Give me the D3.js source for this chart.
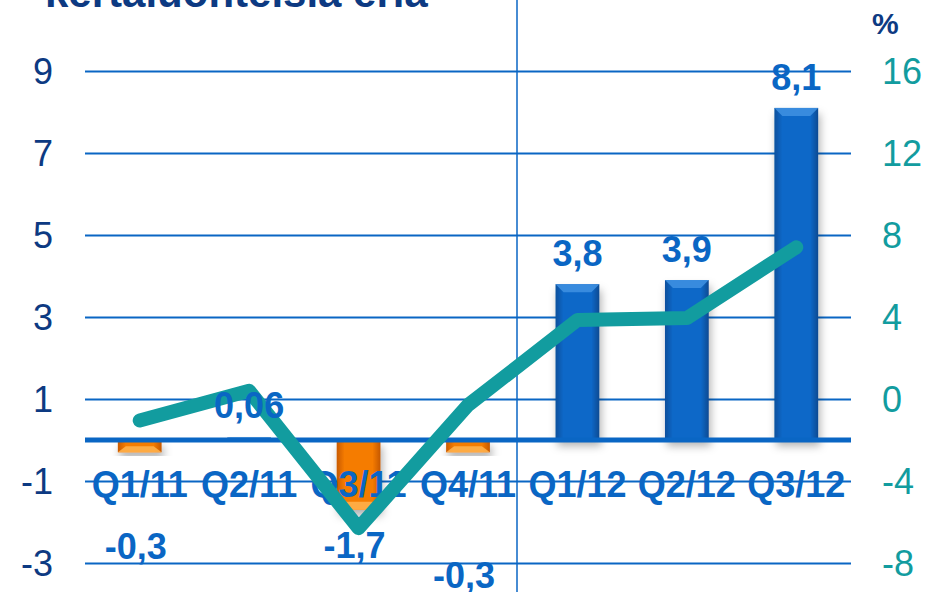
<!DOCTYPE html>
<html>
<head>
<meta charset="utf-8">
<script src="https://cdn.jsdelivr.net/npm/d3@7"></script>
<style>
  html, body { margin: 0; padding: 0; background: #fff; }
  svg { display: block; font-family: "Liberation Sans", Arial, sans-serif; }
</style>
</head>
<body>
<svg id="chart" width="943" height="592"></svg>
<script>
// ---- data ----
const categories = ["Q1/11", "Q2/11", "Q3/11", "Q4/11", "Q1/12", "Q2/12", "Q3/12"];
const barValues = [-0.3, 0.06, -1.7, -0.3, 3.8, 3.9, 8.1];
const lineValues = [-1.05, 0.4, -6.3, -0.3, 3.85, 3.95, 7.4];
const leftTicks = [9, 7, 5, 3, 1, -1, -3];
const rightTicks = [16, 12, 8, 4, 0, -4, -8];
const titleText = "kertaluonteisia eriä";
const unitText = "%";

// ---- layout ----
const svg = d3.select("#chart");
const x = d3.scaleBand().domain(categories).range([85, 851]).paddingInner(0.6).paddingOuter(0.3);
const yL = d3.scaleLinear().domain([-3, 9]).range([563, 71]);
const yR = d3.scaleLinear().domain([-8, 16]).range([563, 71]);
const fmt = v => String(v).replace(".", ",");

const BLUE = "#0a66c4", NAVY = "#0d3a82", TEAL = "#129c9f";

// defs
const defs = svg.append("defs");
const gBlue = defs.append("linearGradient").attr("id", "gBlue").attr("x1", 0).attr("x2", 1).attr("y1", 0).attr("y2", 0);
gBlue.append("stop").attr("offset", "0%").attr("stop-color", "#0a4f9c");
gBlue.append("stop").attr("offset", "18%").attr("stop-color", "#0a68c8");
gBlue.append("stop").attr("offset", "82%").attr("stop-color", "#0a68c8");
gBlue.append("stop").attr("offset", "100%").attr("stop-color", "#094a92");
const gOr = defs.append("linearGradient").attr("id", "gOr").attr("x1", 0).attr("x2", 1).attr("y1", 0).attr("y2", 0);
gOr.append("stop").attr("offset", "0%").attr("stop-color", "#c85a00");
gOr.append("stop").attr("offset", "18%").attr("stop-color", "#f57b00");
gOr.append("stop").attr("offset", "82%").attr("stop-color", "#f57b00");
gOr.append("stop").attr("offset", "100%").attr("stop-color", "#c45800");
const sh = defs.append("filter").attr("id", "shadow").attr("x", "-30%").attr("y", "-30%").attr("width", "160%").attr("height", "160%");
sh.append("feDropShadow").attr("dx", 2).attr("dy", 6).attr("stdDeviation", 4).attr("flood-color", "#000").attr("flood-opacity", 0.3);

// title (cut off at top)
svg.append("text").attr("x", 45).attr("y", 7)
  .attr("font-size", 42).attr("font-weight", "bold").attr("fill", NAVY)
  .text(titleText);

// unit
svg.append("text").attr("x", 872).attr("y", 34)
  .attr("font-size", 30).attr("font-weight", "bold").attr("fill", NAVY)
  .text(unitText);

// gridlines
svg.append("g").attr("transform", "translate(85,0)")
  .call(d3.axisRight(yL).tickValues(leftTicks).tickSize(766).tickFormat(""))
  .call(g => g.select(".domain").remove())
  .call(g => g.selectAll("line").attr("stroke", BLUE).attr("stroke-width", 2));

// left axis labels
svg.append("g").attr("transform", "translate(53,0)")
  .call(d3.axisLeft(yL).tickValues(leftTicks).tickSize(0).tickPadding(0).tickFormat(fmt))
  .call(g => g.select(".domain").remove())
  .call(g => g.selectAll("text").attr("font-size", 36).attr("fill", NAVY)
    .attr("font-family", "'Liberation Sans', Arial, sans-serif").attr("dy", "0.36em"));

// right axis labels
svg.append("g").attr("transform", "translate(882,0)")
  .call(d3.axisRight(yR).tickValues(rightTicks).tickSize(0).tickPadding(0).tickFormat(fmt))
  .call(g => g.select(".domain").remove())
  .call(g => g.selectAll("text").attr("font-size", 36).attr("fill", TEAL)
    .attr("font-family", "'Liberation Sans', Arial, sans-serif").attr("dy", "0.36em"));

// vertical separator
svg.append("line").attr("x1", 517).attr("x2", 517).attr("y1", 0).attr("y2", 592)
  .attr("stroke", BLUE).attr("stroke-width", 1.5);

// bars
const bars = svg.append("g").selectAll("g").data(categories).join("g");
bars.append("rect")
  .attr("x", d => x(d))
  .attr("y", (d, i) => Math.min(yL(barValues[i]), yL(0)))
  .attr("width", x.bandwidth())
  .attr("height", (d, i) => Math.abs(yL(barValues[i]) - yL(0)))
  .attr("fill", (d, i) => barValues[i] < 0 ? "url(#gOr)" : "url(#gBlue)")
  .attr("filter", "url(#shadow)");
// bevel highlight on the outer end of each bar
bars.append("path")
  .attr("d", (d, i) => {
    const v = barValues[i];
    const x0 = x(d), x1 = x(d) + x.bandwidth();
    const yEnd = yL(v);
    const h = Math.min(8, Math.abs(yL(v) - yL(0)) / 2);
    const s = v >= 0 ? 1 : -1;
    return `M${x0},${yEnd} L${x1},${yEnd} L${x1 - 8},${yEnd + s * h} L${x0 + 8},${yEnd + s * h} Z`;
  })
  .attr("fill", (d, i) => barValues[i] < 0 ? "#ffb04a" : "#3d8fe0")
  .attr("opacity", 0.9);

// zero line
svg.append("line").attr("x1", 85).attr("x2", 851).attr("y1", yL(0)).attr("y2", yL(0))
  .attr("stroke", BLUE).attr("stroke-width", 5);

// category labels
svg.append("g").selectAll("text").data(categories).join("text")
  .attr("x", d => x(d) + x.bandwidth() / 2)
  .attr("y", 497)
  .attr("text-anchor", "middle")
  .attr("font-size", 36).attr("font-weight", "bold").attr("fill", BLUE)
  .text(d => d);

// line series (right axis)
const lineGen = d3.line()
  .x((d, i) => x(categories[i]) + x.bandwidth() / 2)
  .y(d => yR(d));
svg.append("path").datum(lineValues)
  .attr("d", lineGen)
  .attr("fill", "none").attr("stroke", TEAL).attr("stroke-width", 14)
  .attr("stroke-linecap", "round").attr("stroke-linejoin", "round");

// data labels (hand-placed in the original; offsets in left-axis units)
const labelShift = [-2.6, 0.48, -1.18, -3.3, 0, 0, 0];
svg.append("g").selectAll("text").data(categories).join("text")
  .attr("x", (d, i) => x(d) + x.bandwidth() / 2 + (barValues[i] < 0 ? -4 : 0))
  .attr("y", (d, i) => {
    const v = barValues[i];
    if (v > 0.5) return yL(v) - 18;
    return yL(v + labelShift[i]);
  })
  .attr("text-anchor", "middle")
  .attr("font-size", 36).attr("font-weight", "bold").attr("fill", BLUE)
  .text((d, i) => fmt(barValues[i]));
</script>
</body>
</html>
